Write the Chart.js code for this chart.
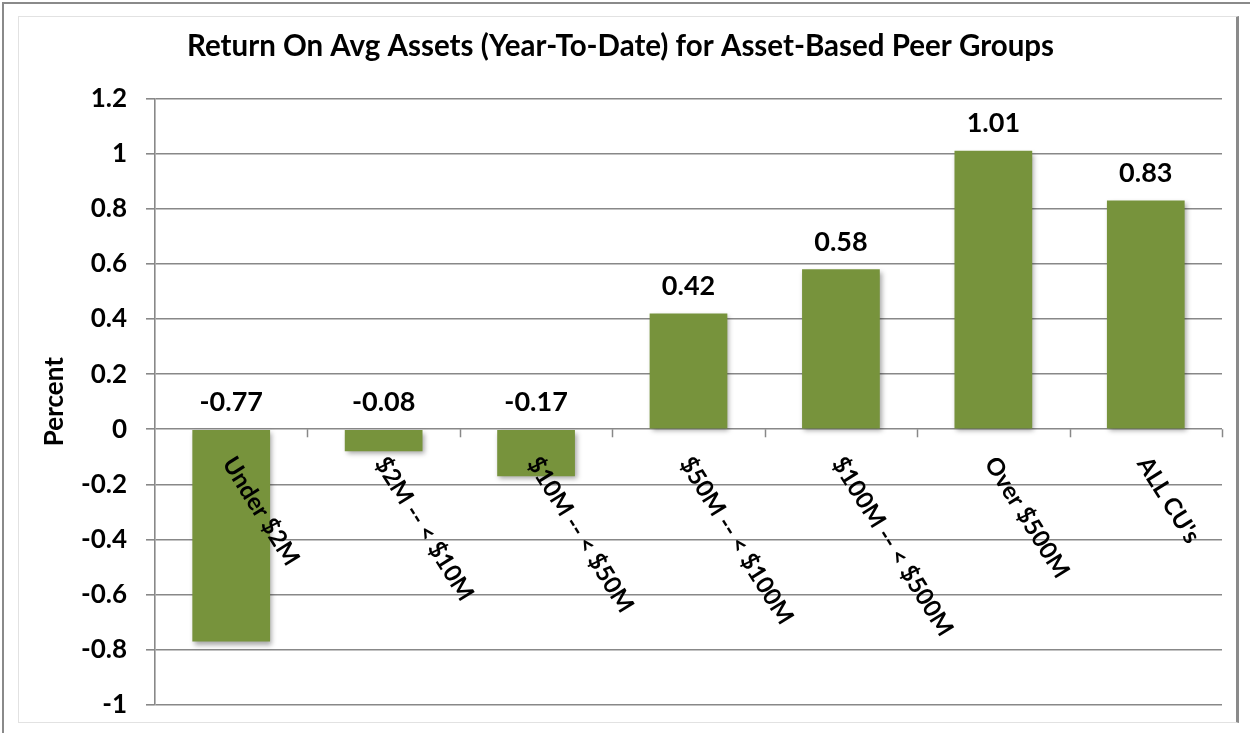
<!DOCTYPE html>
<html>
<head>
<meta charset="utf-8">
<title>Return On Avg Assets (Year-To-Date)</title>
<script src="https://cdn.jsdelivr.net/npm/chart.js@4.4.0/dist/chart.umd.min.js"></script>
<style>
  html, body { margin: 0; padding: 0; background: #fff; }
  body { width: 1250px; height: 733px; position: relative; overflow: hidden; }
  #outer { position: absolute; left: 2px; top: 2px; right: 0; bottom: 0; border-top: 2px solid #8a8a8a; border-left: 2px solid #8a8a8a; }
  #frame { position: absolute; left: 18px; top: 16px; width: 1217px; height: 705px; border: 1px solid #e2e2e2; border-right: 3px solid #8a8a8a; }
  #roa-chart { display: block; }
</style>
</head>
<body>
<div id="outer"></div>
<div id="frame"><canvas id="roa-chart" width="1217" height="705"></canvas></div>
<script>
// --- Dados ---
const categories = ['Under $2M', '$2M -- < $10M', '$10M -- < $50M', '$50M -- < $100M', '$100M -- < $500M', 'Over $500M', "ALL CU's"];
const roaValues = [-0.77, -0.08, -0.17, 0.42, 0.58, 1.01, 0.83];
const yTickValues = [-1, -0.8, -0.6, -0.4, -0.2, 0, 0.2, 0.4, 0.6, 0.8, 1, 1.2];

const FONT = 'Lato, "Open Sans", sans-serif';
const GRID = '#888888';

// rótulos de valor acima das barras (ou acima do zero, se negativas)
const valueLabels = {
    id: 'valueLabels',
    afterDatasetsDraw(chart) {
        const { ctx, scales: { y } } = chart;
        const zero = y.getPixelForValue(0);
        ctx.save();
        ctx.font = `bold 27px ${FONT}`;
        ctx.fillStyle = '#000';
        ctx.textAlign = 'center';
        ctx.textBaseline = 'middle';
        chart.getDatasetMeta(0).data.forEach((bar, i) => {
            const top = Math.min(bar.y, zero);
            ctx.fillText(roaValues[i].toFixed(2), bar.x, top - 27);
        });
        ctx.restore();
    }
};

// categorias inclinadas na linha do zero + marquinhas
const zeroAxis = {
    id: 'zeroAxis',
    afterDraw(chart) {
        const { ctx, scales: { x, y } } = chart;
        const zero = y.getPixelForValue(0);
        ctx.save();
        ctx.strokeStyle = GRID;
        ctx.lineWidth = 1.5;
        for (let i = 1; i <= categories.length; i++) {
            const bx = Math.round(x.getPixelForValue(i - 0.5)) + 0.5;
            ctx.beginPath();
            ctx.moveTo(bx, zero);
            ctx.lineTo(bx, zero + 8);
            ctx.stroke();
        }
        ctx.font = `bold 24px ${FONT}`;
        ctx.fillStyle = '#000';
        ctx.textAlign = 'left';
        ctx.textBaseline = 'middle';
        categories.forEach((label, i) => {
            ctx.save();
            ctx.translate(x.getPixelForValue(i) - 3, zero + 30);
            ctx.rotate(58 * Math.PI / 180);
            ctx.fillText(label, 0, 0);
            ctx.restore();
        });
        ctx.restore();
    }
};

const barShadow = {
    id: 'barShadow',
    beforeDatasetDraw(chart) {
        const ctx = chart.ctx;
        ctx.save();
        ctx.shadowColor = 'rgba(0,0,0,0.35)';
        ctx.shadowBlur = 5;
        ctx.shadowOffsetX = 2;
        ctx.shadowOffsetY = 3;
    },
    afterDatasetDraw(chart) {
        chart.ctx.restore();
    }
};

const chart = new Chart(document.getElementById('roa-chart'), {
    type: 'bar',
    data: {
        labels: categories,
        datasets: [{
            label: 'Percent',
            data: roaValues,
            backgroundColor: '#77933c',
            borderWidth: 0,
            categoryPercentage: 1,
            barPercentage: 0.51
        }]
    },
    options: {
        responsive: false,
        animation: false,
        layout: { padding: { left: 0, right: 14, bottom: 0, top: 0 } },
        scales: {
            x: { display: false },
            y: {
                min: -1,
                max: 1.2,
                afterBuildTicks: (scale) => { scale.ticks = yTickValues.map(v => ({ value: v })); },
                afterFit: (scale) => {
                    scale.width = 136;
                    scale.paddingTop = 16;
                    scale.paddingBottom = 17;
                },
                grid: { color: GRID, lineWidth: 1.6, tickLength: 9 },
                border: { color: GRID, width: 1.6 },
                ticks: {
                    color: '#000',
                    padding: 19,
                    font: { family: FONT, size: 26, weight: 'bold' },
                    callback: (v) => String(Math.round(v * 10) / 10)
                },
                title: {
                    display: true,
                    text: 'Percent',
                    color: '#000',
                    font: { family: FONT, size: 26, weight: 'bold' },
                    padding: { top: 20, bottom: 0 }
                }
            }
        },
        plugins: {
            legend: { display: false },
            tooltip: { enabled: false },
            title: {
                display: true,
                text: 'Return On Avg Assets (Year-To-Date) for Asset-Based Peer Groups',
                color: '#000',
                font: { family: FONT, size: 29.5, weight: 'bold' },
                padding: { top: 12, bottom: 34 }
            }
        }
    },
    plugins: [barShadow, valueLabels, zeroAxis]
});
</script>
</body>
</html>
